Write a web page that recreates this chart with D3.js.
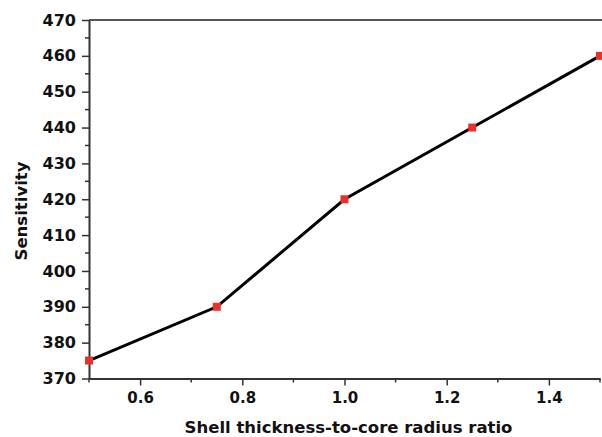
<!DOCTYPE html>
<html>
<head>
<meta charset="utf-8">
<script src="https://cdn.jsdelivr.net/npm/d3@7"></script>
<style>
    body { margin: 0; background: #fff; }
    text { font-family: "DejaVu Sans", sans-serif; font-weight: bold; fill: #111; }
</style>
</head>
<body>
<div id="chart"></div>
<script>
// shell thickness-to-core radius ratio vs sensitivity
var ratios = [0.5, 0.75, 1.0, 1.25, 1.5];
var sensitivity = [375, 390, 420, 440, 460];
var xTicks = [0.6, 0.8, 1.0, 1.2, 1.4];
var yTicks = [370, 380, 390, 400, 410, 420, 430, 440, 450, 460, 470];

(function () {
    var W = 602, H = 437;
    var left = 89, right = 600, top = 20, bottom = 378.5;

    var svg = d3.select("#chart").append("svg")
        .attr("width", W)
        .attr("height", H);

    var x = d3.scaleLinear().domain([0.5, 1.5]).range([left, right]);
    var y = d3.scaleLinear().domain([370, 470]).range([bottom, top]);

    //--top frame line
    svg.append("line")
        .attr("x1", left).attr("x2", W)
        .attr("y1", top).attr("y2", top)
        .attr("stroke", "#555").attr("stroke-width", 2);

    //--minor ticks (half steps)
    var xMinor = d3.range(0.5, 1.51, 0.1).filter(function (v) {
        return Math.round(v * 10) % 2 === 1;
    });
    svg.append("g").selectAll("line").data(xMinor).enter().append("line")
        .attr("x1", function (d) { return x(d); })
        .attr("x2", function (d) { return x(d); })
        .attr("y1", bottom).attr("y2", bottom + 4)
        .attr("stroke", "#333").attr("stroke-width", 1.5);

    var yMinor = d3.range(375, 470, 10);
    svg.append("g").selectAll("line").data(yMinor).enter().append("line")
        .attr("x1", left - 4).attr("x2", left)
        .attr("y1", function (d) { return y(d); })
        .attr("y2", function (d) { return y(d); })
        .attr("stroke", "#333").attr("stroke-width", 1.5);

    var xAxis = svg.append("g")
        .attr("transform", "translate(0," + bottom + ")")
        .call(d3.axisBottom(x).tickValues(xTicks).tickFormat(d3.format(".1f"))
            .tickSize(7).tickPadding(7).tickSizeOuter(0));

    var yAxis = svg.append("g")
        .attr("transform", "translate(" + left + ",0)")
        .call(d3.axisLeft(y).tickValues(yTicks).tickFormat(d3.format("d"))
            .tickSize(7).tickPadding(6).tickSizeOuter(0));

    [xAxis, yAxis].forEach(function (g) {
        g.select(".domain").attr("stroke", "#333").attr("stroke-width", 2);
        g.selectAll(".tick line").attr("stroke", "#333").attr("stroke-width", 1.5);
        g.selectAll(".tick text").style("font-size", "15px").attr("fill", "#111");
    });
    yAxis.selectAll(".tick text").style("font-size", "16px");

    var pts = ratios.map(function (r, i) { return [r, sensitivity[i]]; });

    svg.append("path")
        .datum(pts)
        .attr("fill", "none")
        .attr("stroke", "#000")
        .attr("stroke-width", 3)
        .attr("d", d3.line()
            .x(function (d) { return x(d[0]); })
            .y(function (d) { return y(d[1]); }));

    var m = 8;
    svg.append("g").selectAll("rect").data(pts).enter().append("rect")
        .attr("x", function (d) { return x(d[0]) - m / 2; })
        .attr("y", function (d) { return y(d[1]) - m / 2; })
        .attr("width", m).attr("height", m)
        .attr("fill", "#e8302c");

    svg.append("text")
        .attr("x", (left + right) / 2 + 4)
        .attr("y", 433)
        .attr("text-anchor", "middle")
        .style("font-size", "16.5px")
        .text("Shell thickness-to-core radius ratio");

    svg.append("text")
        .attr("transform", "translate(27,211) rotate(-90)")
        .attr("text-anchor", "middle")
        .style("font-size", "16.5px")
        .text("Sensitivity");
})();
</script>
</body>
</html>
